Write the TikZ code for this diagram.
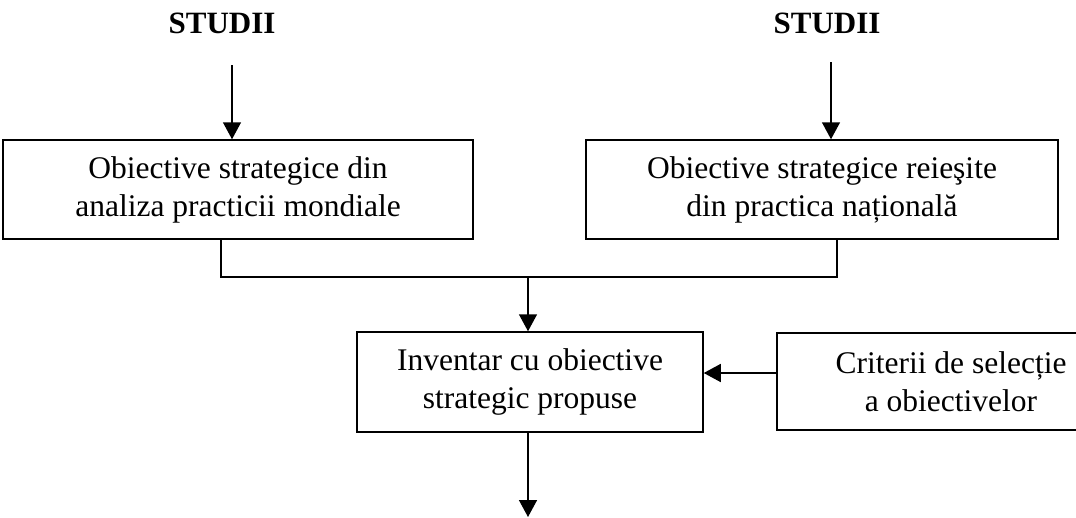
\documentclass[tikz,border=0pt]{standalone}
\usepackage{fontspec}
\setmainfont{Liberation Serif}
\usetikzlibrary{arrows.meta}
\begin{document}
\begin{tikzpicture}[x=1pt,y=-1pt,
  box/.style={draw,line width=1.5pt,inner sep=0pt,align=center,
    font=\fontsize{31.5}{38}\selectfont},
  head/.style={font=\fontsize{31}{36}\selectfont\bfseries,inner sep=0pt,anchor=base},
  conn/.style={line width=1.5pt},
  arr/.style={conn,-{Triangle[length=17pt,width=18pt]}}]
\useasboundingbox (0,0) rectangle (1076,517);
\node[head] (s1) at (222,33) {STUDII};
\node[head] (s2) at (827,33) {STUDII};
\node[box,minimum width=470pt,minimum height=99pt] (lb) at (238,189.5)
  {Obiective strategice din\\analiza practicii mondiale};
\node[box,minimum width=472pt,minimum height=99pt] (rb) at (822,189.5)
  {Obiective strategice reieşite\\din practica națională};
\node[box,minimum width=346pt,minimum height=100pt] (mb) at (530,382)
  {Inventar cu obiective\\strategic propuse};
\node[box,minimum width=348pt,minimum height=97pt] (cb) at (951,381.5)
  {Criterii de selecție\\a obiectivelor};
\coordinate (a1) at (232,65);
\coordinate (a2) at (831,62);
\coordinate (bl) at (221,277);
\coordinate (br) at (837,277);
\coordinate (bm) at (528,277);
\coordinate (end) at (528,517);
\draw[arr] (a1) -- (a1 |- lb.north);
\draw[arr] (a2) -- (a2 |- rb.north);
\draw[conn] (bl |- lb.south) -- (bl) -- (br) -- (br |- rb.south);
\draw[arr] (bm) -- (bm |- mb.north);
\draw[arr] (cb.west |- 0,373) -- (mb.east |- 0,373);
\draw[arr] (bm |- mb.south) -- (end);
\end{tikzpicture}
\end{document}
